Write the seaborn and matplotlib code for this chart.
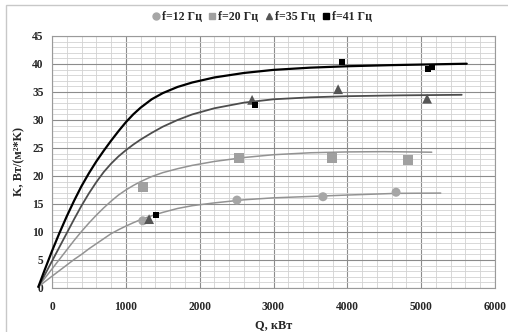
import numpy as np
import pandas as pd
import seaborn as sns
import matplotlib.pyplot as plt
from matplotlib.ticker import MultipleLocator
from matplotlib.patches import Rectangle
from matplotlib.lines import Line2D

# Measured points (Q, kW ; K, W/(m2*K))
q_12 = [1230, 2505, 3670, 4660]
k_12 = [12.0, 15.7, 16.3, 17.1]
q_20 = [1230, 2535, 3795, 4825]
k_20 = [18.0, 23.2, 23.2, 22.8]
q_35 = [1315, 2710, 3875, 5080]
k_35 = [12.3, 33.6, 35.5, 33.8]
q_41 = [1410, 2750, 3930, 5095, 5150]
k_41 = [13.0, 32.7, 40.4, 39.1, 39.5]

# Trend lines
curve_q_12 = [-185, -100, 0, 100, 200, 300, 400, 500, 600, 700, 800, 900, 1000, 1100, 1200,
              1350, 1500, 1700, 1900, 2200, 2600, 3000, 3500, 4000, 4669, 5265]
curve_k_12 = [0.2, 1.1, 2.1, 3.1, 4.1, 5.1, 6.0, 7.0, 7.9, 8.8, 9.7, 10.4, 11.05, 11.65, 12.2,
              12.9, 13.5, 14.2, 14.7, 15.2, 15.75, 16.1, 16.35, 16.6, 16.9, 16.95]
curve_q_20 = [-185, -100, 0, 100, 200, 300, 400, 500, 600, 700, 800, 900, 1000, 1100, 1200,
              1350, 1500, 1700, 1900, 2200, 2600, 3000, 3500, 4000, 4500, 5143]
curve_k_20 = [0.2, 1.7, 3.4, 5.1, 6.8, 8.5, 10.1, 11.6, 13.0, 14.3, 15.5, 16.6, 17.5, 18.3, 19.0,
              19.9, 20.6, 21.3, 21.9, 22.6, 23.3, 23.8, 24.15, 24.3, 24.35, 24.25]
curve_q_35 = [-185, -100, 0, 100, 200, 300, 400, 500, 600, 700, 800, 900, 1000, 1100, 1200,
              1350, 1500, 1700, 1900, 2200, 2600, 3000, 3500, 4000, 4700, 5549]
curve_k_35 = [0.2, 2.3, 4.8, 7.3, 9.8, 12.3, 14.7, 16.9, 18.9, 20.7, 22.2, 23.5, 24.6, 25.6, 26.5,
              27.7, 28.8, 30.0, 31.0, 32.1, 33.1, 33.7, 34.05, 34.25, 34.4, 34.5]
curve_q_41 = [-185, -100, 0, 100, 200, 300, 400, 500, 600, 700, 800, 900, 1000, 1100, 1200,
              1350, 1500, 1700, 1900, 2200, 2600, 3000, 3500, 4000, 4600, 5617]
curve_k_41 = [0.2, 3.2, 6.6, 9.8, 12.8, 15.6, 18.2, 20.5, 22.6, 24.5, 26.3, 28.0, 29.6, 31.0, 32.2,
              33.7, 34.8, 35.9, 36.7, 37.6, 38.4, 38.95, 39.35, 39.6, 39.8, 40.05]

labels = ["f=12 Гц", "f=20 Гц", "f=35 Гц", "f=41 Гц"]

sns.set_style("white")
plt.rcParams["font.family"] = ["Liberation Serif", "DejaVu Serif"]
plt.rcParams["font.weight"] = "bold"

fig = plt.figure(figsize=(5.08, 3.32), dpi=100)
ax = fig.add_axes([52 / 508, 44 / 332, 443 / 508, 252 / 332])

# chart area border (only top/left visible in the reference)
fig.patches.append(Rectangle((6 / 508, -0.1), 1.2, (327 / 332) + 0.1, transform=fig.transFigure,
                             fill=False, edgecolor="#c8c8c8", linewidth=1.0))

series = [
    (curve_q_12, curve_k_12, q_12, k_12, "#939393", "#a6a6a6", "o", 42, 1.1),
    (curve_q_20, curve_k_20, q_20, k_20, "#939393", "#a0a0a0", "s", 55, 1.1),
    (curve_q_35, curve_k_35, q_35, k_35, "#4d4d4d", "#555555", "^", 50, 1.3),
    (curve_q_41, curve_k_41, q_41, k_41, "#000000", "#000000", "s", 22, 1.6),
]

# trend lines first, markers on top
for cq, ck, pq, pk, lc, mc, mk, ms, lw in series:
    line_df = pd.DataFrame({"Q": cq, "K": ck})
    sns.lineplot(data=line_df, x="Q", y="K", ax=ax, color=lc, linewidth=lw, sort=False,
                 estimator=None, clip_on=False, zorder=3)
for cq, ck, pq, pk, lc, mc, mk, ms, lw in series:
    pt_df = pd.DataFrame({"Q": pq, "K": pk})
    sns.scatterplot(data=pt_df, x="Q", y="K", ax=ax, color=mc, marker=mk, s=ms,
                    edgecolor="none", linewidth=0, zorder=4)

ax.set_xlim(0, 6000)
ax.set_ylim(0, 45)
ax.xaxis.set_major_locator(MultipleLocator(1000))
ax.xaxis.set_minor_locator(MultipleLocator(200))
ax.yaxis.set_major_locator(MultipleLocator(5))
ax.yaxis.set_minor_locator(MultipleLocator(1))
ax.grid(which="major", color="#8c8c8c", linewidth=0.8)
ax.grid(which="minor", color="#d2d2d2", linewidth=0.6)
ax.set_axisbelow(True)
for s in ax.spines.values():
    s.set_color("#9a9a9a")
    s.set_linewidth(0.8)
ax.tick_params(which="both", length=0)
ax.tick_params(axis="x", pad=9, labelsize=8.3)
ax.tick_params(axis="y", pad=6, labelsize=8.3)
for t in ax.get_xticklabels() + ax.get_yticklabels():
    t.set_fontweight("bold")

ax.set_xlabel("Q, кВт", fontsize=8.8, fontweight="bold", labelpad=5)
ax.set_ylabel("K, Вт/(м²*K)", fontsize=8.8, fontweight="bold", labelpad=5)

handles = [
    Line2D([], [], linestyle="none", marker="o", color="#a6a6a6", markersize=5),
    Line2D([], [], linestyle="none", marker="s", color="#a0a0a0", markersize=5),
    Line2D([], [], linestyle="none", marker="^", color="#555555", markersize=5),
    Line2D([], [], linestyle="none", marker="s", color="#000000", markersize=4),
]
fig.legend(handles, labels, loc="center", bbox_to_anchor=(0.516, 0.949), ncol=4, frameon=False,
           handletextpad=0.2, columnspacing=0.6, handlelength=0.6,
           prop={"size": 8.6, "weight": "bold"})

fig.savefig("out.png", dpi=100)
